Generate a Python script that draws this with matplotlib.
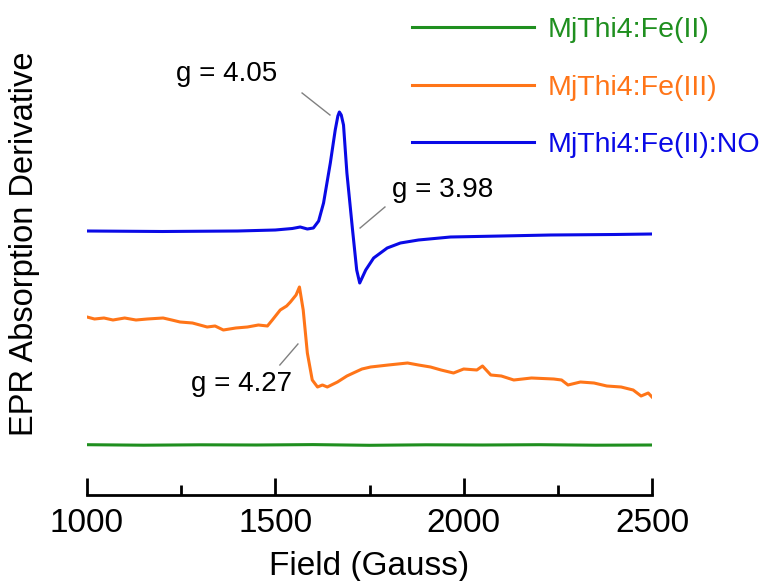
import numpy as np
import matplotlib
matplotlib.use("Agg")
import matplotlib.pyplot as plt
from matplotlib.ticker import MultipleLocator

plt.rcParams['font.family'] = ['Liberation Sans', 'DejaVu Sans']

labels = ['MjThi4:Fe(II)', 'MjThi4:Fe(III)', 'MjThi4:Fe(II):NO']
colors = ['#1f8f1f', '#ff7518', '#0a0ae6']

# green: Fe(II), essentially flat
field_fe2 = [1000, 1150, 1300, 1450, 1600, 1750, 1900, 2050, 2200, 2350, 2500]
sig_fe2 = [0.3, -0.2, 0.2, 0.0, 0.4, -0.3, 0.2, 0.0, 0.3, -0.2, 0.0]

# orange: Fe(III), g = 4.27
field_fe3 = [1000, 1020, 1045, 1069, 1100, 1130, 1160, 1202, 1225, 1247, 1280,
             1319, 1340, 1362, 1395, 1426, 1455, 1479, 1492, 1513, 1530, 1540,
             1555, 1564, 1574, 1585, 1598, 1612, 1625, 1638, 1665, 1690, 1707,
             1730, 1753, 1800, 1851, 1880, 1912, 1940, 1973, 2000, 2035, 2050,
             2072, 2100, 2133, 2180, 2239, 2260, 2277, 2310, 2346, 2380, 2418,
             2450, 2471, 2490, 2500]
sig_fe3 = [3, 1, 2, 0, 2, 0, 1, 2, 0, -2, -3,
           -7, -6, -10, -8, -7, -5, -6, 0, 10, 14, 18,
           25, 33, 10, -33, -60, -67, -65, -67, -62, -56, -53,
           -49, -47, -45, -43, -45, -47, -50, -53, -49, -50, -46,
           -55, -56, -60, -58, -59, -60, -65, -62, -63, -66, -67,
           -70, -76, -73, -77]

# blue: Fe(II):NO, g = 4.05 / 3.98
field_no = [1000, 1200, 1400, 1500, 1545, 1566, 1585, 1601, 1615, 1628, 1646,
            1659, 1666, 1670, 1675, 1681, 1690, 1705, 1716, 1724, 1740, 1761,
            1797, 1832, 1880, 1965, 2100, 2231, 2400, 2500]
sig_no = [0, -0.5, 0, 1, 2.5, 4, 2, 3, 10, 28, 68,
          101, 115, 119, 116, 106, 58, 1, -39, -52, -39, -27,
          -17, -12, -9, -6, -5, -4, -3.5, -3]

offsets = [75, 200, 289]

fig = plt.figure(figsize=(7.65, 5.81), dpi=100)
ax = fig.add_axes([87 / 765, 1 - 495 / 581, 565 / 765, 485 / 581])

series = [(field_fe2, sig_fe2), (field_fe3, sig_fe3), (field_no, sig_no)]
for (f, s), off, c, lab in zip(series, offsets, colors, labels):
    ax.plot(f, np.array(s) + off, color=c, lw=2.2, label=lab)

ax.set_xlim(1000, 2500)
ax.set_ylim(25, 510)
for sp in ['top', 'right', 'left']:
    ax.spines[sp].set_visible(False)
ax.spines['bottom'].set_linewidth(2)
ax.set_yticks([])
ax.xaxis.set_major_locator(MultipleLocator(500))
ax.xaxis.set_minor_locator(MultipleLocator(250))
ax.tick_params(axis='x', which='major', direction='in', length=12, width=2,
               labelsize=24, pad=9)
ax.tick_params(axis='x', which='minor', direction='in', length=7, width=2)
ax.set_xlabel('Field (Gauss)', fontsize=24, labelpad=9)
fig.text(25 / 765, 1 - 244 / 581, 'EPR Absorption Derivative', rotation=90,
         fontsize=23.5, ha='center', va='center')

# g-value labels with grey leader lines
gray = '#808080'
ax.text(1372, 446, 'g = 4.05', fontsize=20, ha='center', va='center')
ax.plot([1571, 1645], [427, 405], color=gray, lw=1)
ax.text(1810, 330, 'g = 3.98', fontsize=20, ha='left', va='center')
ax.plot([1725, 1791], [292, 313], color=gray, lw=1)
ax.text(1409, 136, 'g = 4.27', fontsize=20, ha='center', va='center')
ax.plot([1512, 1560], [155, 176], color=gray, lw=1)

leg = ax.legend(loc='upper left', bbox_to_anchor=(412 / 765, 1 - 17 / 581),
                bbox_transform=fig.transFigure, frameon=False, fontsize=20.5,
                handlelength=4.3, handletextpad=0.45, labelspacing=1.11,
                borderpad=0, borderaxespad=0, labelcolor='linecolor')

fig.savefig('out.png', dpi=100)
